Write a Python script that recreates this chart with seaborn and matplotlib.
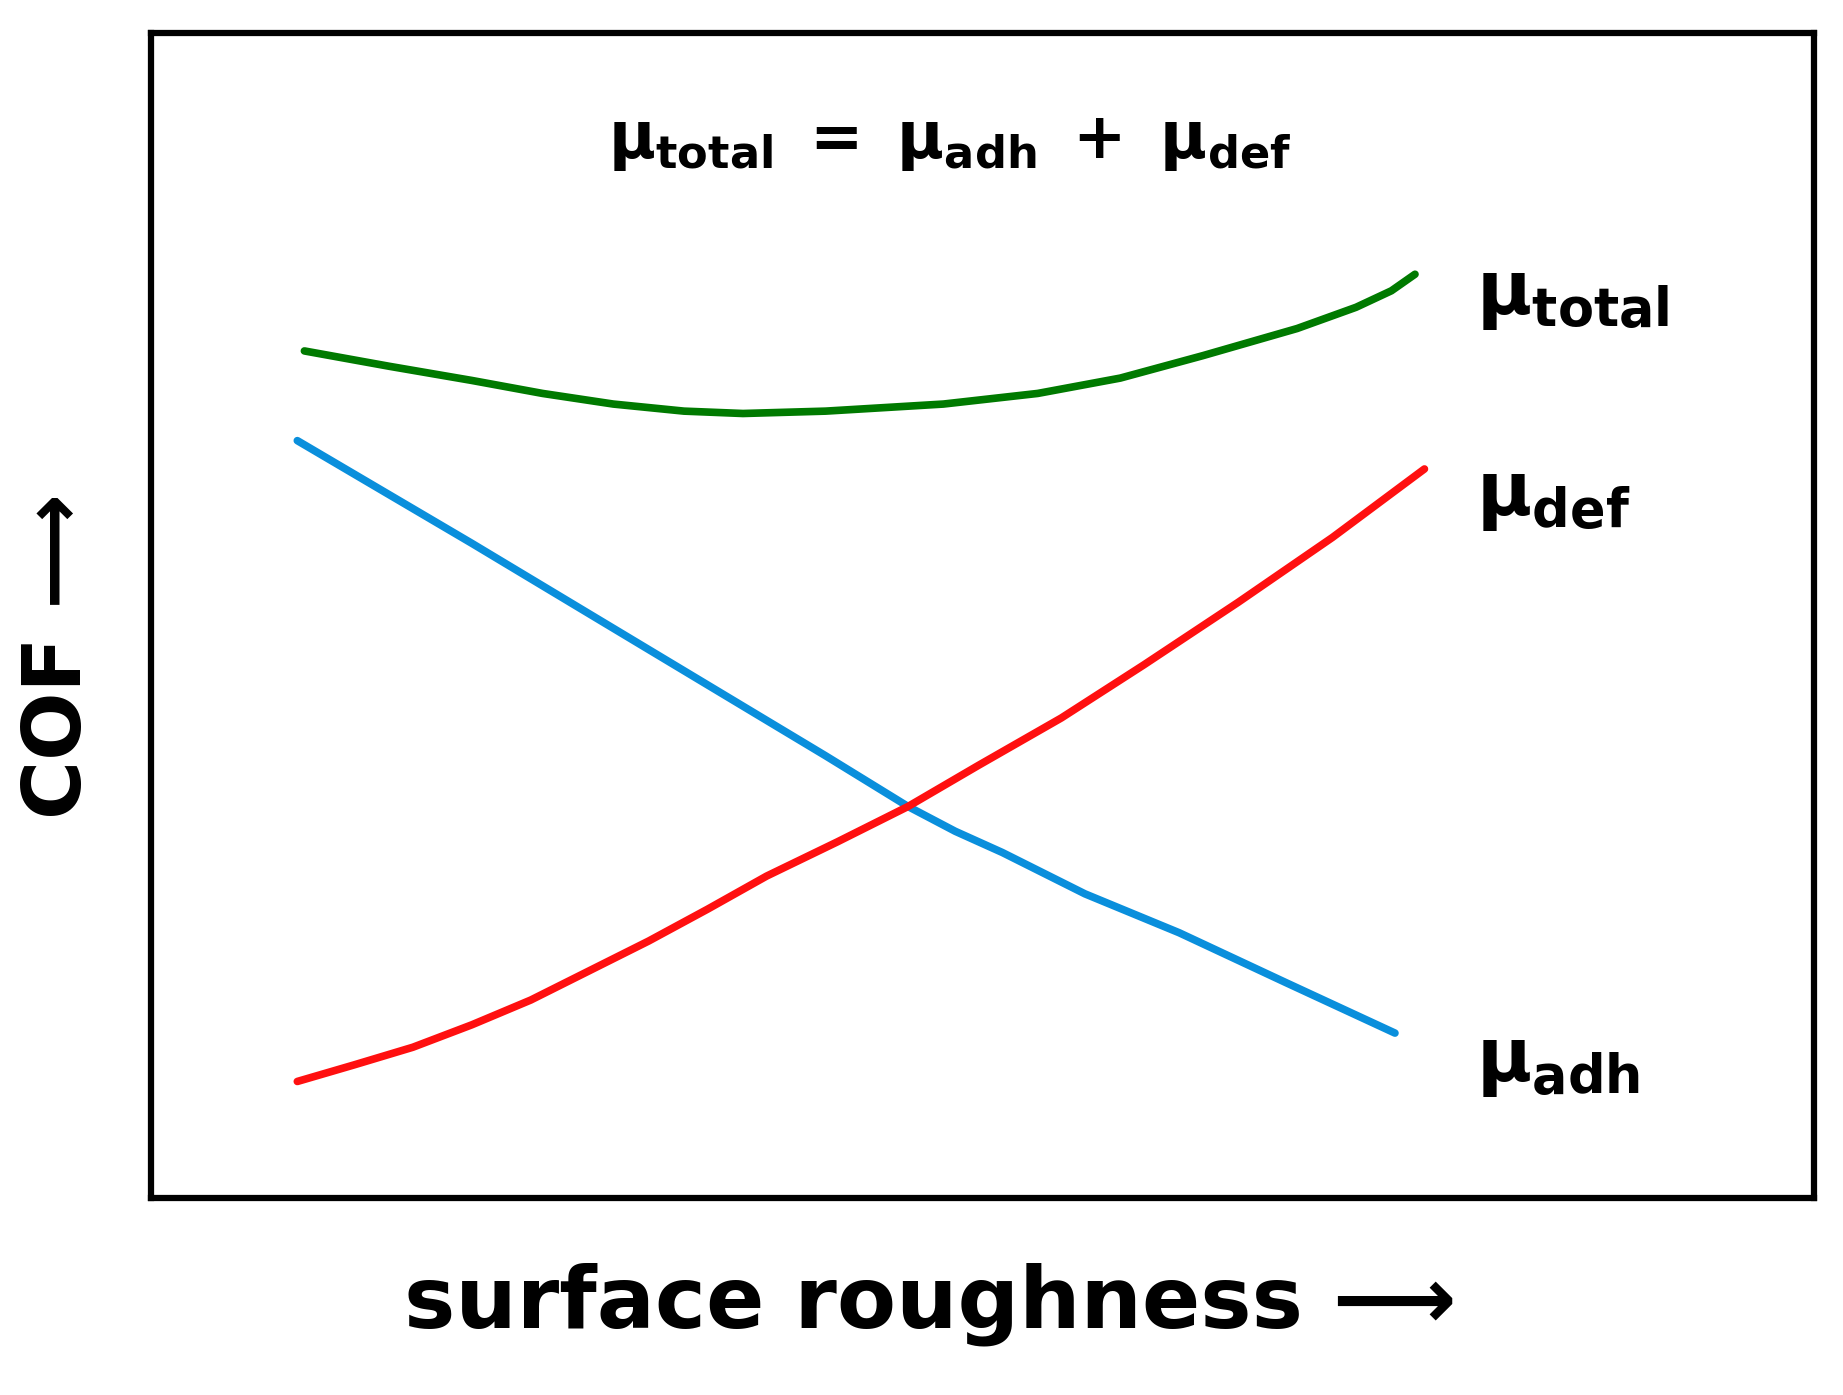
import numpy as np
import pandas as pd
import seaborn as sns
from matplotlib import pyplot as plt

# curve points (x = roughness, y = COF, arbitrary units)
total_x = [258, 330, 400, 460, 520, 580, 630, 700, 800, 880, 950, 1020, 1100, 1150, 1180, 1200]
total_y = [297, 310, 322, 333, 342, 348, 350, 348, 342, 333, 320, 301, 278, 260, 246, 232]
adh_x = [252, 400, 550, 700, 770, 810, 850, 920, 1000, 1090, 1183]
adh_y = [373, 460, 550, 640, 683, 704, 722, 757, 790, 832, 875]
def_x = [252, 300, 350, 400, 450, 500, 550, 600, 650, 710, 770, 830, 900, 970, 1050, 1130, 1208]
def_y = [916, 902, 887, 868, 847, 822, 797, 770, 742, 713, 683, 648, 608, 563, 510, 455, 397]

sns.set_style("white")
plt.rcParams['font.family'] = ['DejaVu Sans']
plt.rcParams['text.color'] = 'black'
plt.rcParams['mathtext.fontset'] = 'custom'
plt.rcParams['mathtext.bf'] = 'DejaVu Sans:bold'
plt.rcParams['mathtext.rm'] = 'DejaVu Sans:bold'

fig = plt.figure(figsize=(18.43, 13.95), dpi=100)
ax = fig.add_axes([0.082, 0.141, 0.902, 0.835])

curves = [(total_x, total_y, '#007a00'), (adh_x, adh_y, '#0a8fdc'), (def_x, def_y, '#ff1010')]
for xs, ys, col in curves:
    df = pd.DataFrame({'x': xs, 'y': ys})
    sns.lineplot(data=df, x='x', y='y', color=col, lw=5.5, ax=ax)

ax.set_xlim(128, 1538)
ax.set_ylim(1015, 28)
ax.set_xticks([])
ax.set_yticks([])
ax.set_xlabel('')
ax.set_ylabel('')
for s in ax.spines.values():
    s.set_linewidth(4.5)
    s.set_color('black')

ax.text(805, 120, r'$\mathbf{μ_{total}\ =\ μ_{adh}\ +\ μ_{def}}$', fontsize=46,
        ha='center', va='center', color='black')
ax.text(1252, 250, r'$\mathbf{μ_{total}}$', fontsize=54, va='center', color='black')
ax.text(1252, 420, r'$\mathbf{μ_{def}}$', fontsize=54, va='center', color='black')
ax.text(1252, 900, r'$\mathbf{μ_{adh}}$', fontsize=54, va='center', color='black')

fig.text(0.505, 0.065, 'surface roughness \u27f6', fontsize=62, fontweight='bold',
         ha='center', va='center', color='black')
fig.text(0.032, 0.53, 'COF \u27f6', fontsize=58, fontweight='bold', rotation=90,
         ha='center', va='center', color='black')

fig.savefig('out.png', dpi=100)
